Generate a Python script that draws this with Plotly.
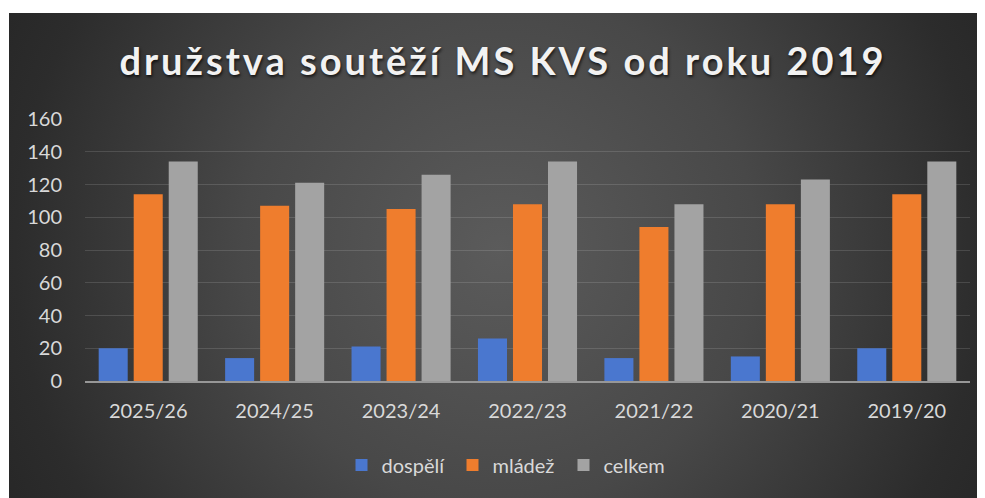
import base64
import plotly.graph_objects as go

categories = ["2025/26", "2024/25", "2023/24", "2022/23", "2021/22", "2020/21", "2019/20"]
dospeli = [20, 14, 21, 26, 14, 15, 20]
mladez = [114, 107, 105, 108, 94, 108, 114]
celkem = [134, 121, 126, 134, 108, 123, 134]
y_ticks = [0, 20, 40, 60, 80, 100, 120, 140, 160]
title_text = "družstva soutěží MS KVS od roku 2019"

# page body has an 8px margin; work in page pixels and convert
OFF = 8
PAGE_W, PAGE_H = 985, 498
W, H = PAGE_W - OFF, PAGE_H - OFF
plot_l, plot_r, plot_t, plot_b = 85, 970, 119, 381  # page px
ml, mr, mt, mb = plot_l - OFF, PAGE_W - plot_r, plot_t - OFF, PAGE_H - plot_b
pw, ph = W - ml - mr, H - mt - mb

def px2paper_x(x):
    return (x - plot_l) / pw

def px2paper_y(y):
    return (plot_b - y) / ph

# background radial gradient (dark chart area starts at page 9,13)
bx0, by0 = 9, 13
bw, bh = PAGE_W - bx0, PAGE_H - by0
svg = f'''<svg xmlns="http://www.w3.org/2000/svg" width="{bw}" height="{bh}" viewBox="0 0 {bw} {bh}" preserveAspectRatio="none">
<defs><radialGradient id="g" gradientUnits="userSpaceOnUse" cx="{500-bx0}" cy="{250-by0}" r="570">
<stop offset="0" stop-color="#5b5b5b"/><stop offset="0.45" stop-color="#484848"/><stop offset="0.85" stop-color="#2c2c2c"/><stop offset="1" stop-color="#262626"/>
</radialGradient></defs><rect x="0" y="0" width="{bw}" height="{bh}" fill="url(#g)"/></svg>'''
src = "data:image/svg+xml;base64," + base64.b64encode(svg.encode()).decode()

txt = "#d9d9d9"
font = "Lato, 'Open Sans', sans-serif"

fig = go.Figure()
fig.add_bar(name="dospělí", x=categories, y=dospeli, marker=dict(color="#4a77cf", line=dict(width=0)))
fig.add_bar(name="mládež", x=categories, y=mladez, marker=dict(color="#ef7d2d", line=dict(width=0)))
fig.add_bar(name="celkem", x=categories, y=celkem, marker=dict(color="#a3a3a3", line=dict(width=0)))

fig.update_layout(
    width=W, height=H,
    margin=dict(l=ml, r=mr, t=mt, b=mb, pad=0),
    paper_bgcolor="white",
    plot_bgcolor="rgba(0,0,0,0)",
    barmode="group",
    bargap=0.169,
    bargroupgap=0.171,
    font=dict(family=font, size=20, color=txt),
    title=dict(
        text=f'<span style="letter-spacing:3px">{title_text}</span>',
        x=(503 - OFF) / W, xref="container", xanchor="center",
        y=1 - (62 - OFF) / H, yref="container", yanchor="middle",
        font=dict(family=font, size=38, color="#f2f2f2", weight="bold",
                  shadow="1px 2px 3px rgba(0,0,0,0.7)"),
    ),
    legend=dict(
        orientation="h", x=px2paper_x(508), xanchor="center",
        y=px2paper_y(465), yanchor="middle",
        font=dict(family=font, size=20, color=txt),
        bgcolor="rgba(0,0,0,0)", itemwidth=30, traceorder="normal",
        entrywidth=66, entrywidthmode="pixels",
    ),
    images=[dict(
        source=src, xref="paper", yref="paper",
        x=px2paper_x(bx0), y=px2paper_y(by0),
        sizex=bw / pw, sizey=bh / ph,
        xanchor="left", yanchor="top", sizing="stretch", layer="below",
    )],
    showlegend=True,
)
fig.update_xaxes(
    type="category", categoryorder="array", categoryarray=categories,
    showgrid=False, showline=True, linecolor="#979797", linewidth=2,
    ticks="", ticklabelstandoff=11, tickfont=dict(size=20, color=txt),
    zeroline=False,
)
fig.update_yaxes(
    range=[0, 160], tickvals=y_ticks, showgrid=True,
    gridcolor="rgba(255,255,255,0.13)", gridwidth=1,
    zeroline=False, showline=False, ticks="", ticklabelstandoff=22,
    tickfont=dict(size=20, color=txt),
)

fig.write_html("out.html")
